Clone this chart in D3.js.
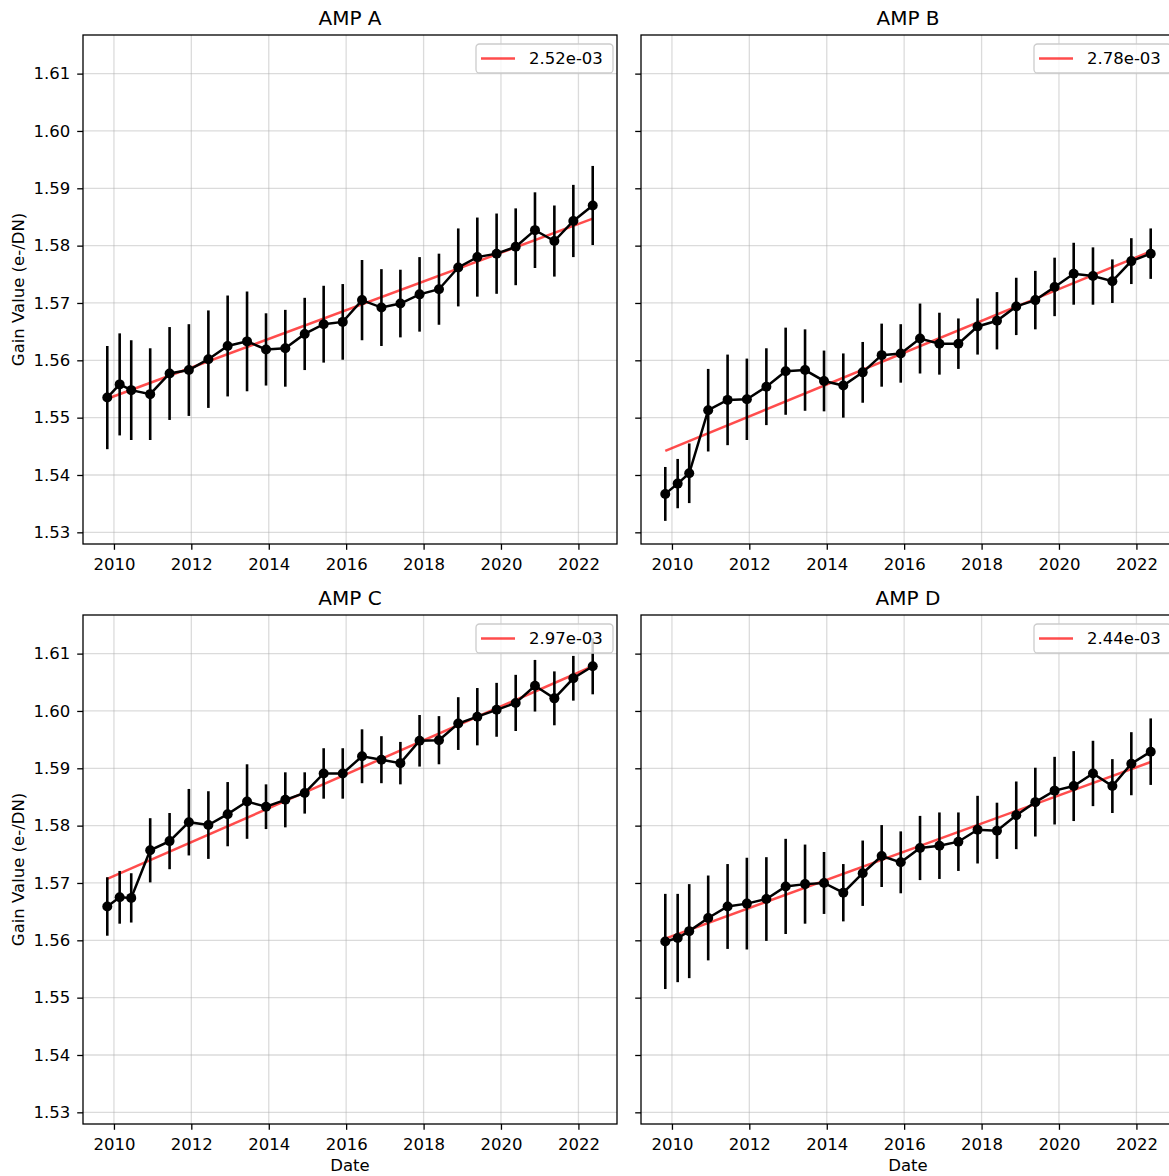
<!DOCTYPE html>
<html><head><meta charset="utf-8">
<script src="https://cdn.jsdelivr.net/npm/d3@7"></script>
<style>
body{margin:0;background:#fff;}
text{font-family:"DejaVu Sans",sans-serif;fill:#000;}
</style></head>
<body>
<svg id="chart" width="1169" height="1176"></svg>
<script>
const dates = ["2009-10-30","2010-02-24","2010-06-13","2010-12-09","2011-06-10","2011-12-09","2012-06-10","2012-12-09","2013-06-10","2013-12-06","2014-06-06","2014-12-06","2015-06-03","2015-11-30","2016-05-30","2016-11-29","2017-05-27","2017-11-24","2018-05-26","2018-11-24","2019-05-23","2019-11-21","2020-05-19","2020-11-17","2021-05-19","2021-11-14","2022-05-16"];
const ampNames = ["AMP A","AMP B","AMP C","AMP D"];
const ampA = [1.5535,1.5558,1.5548,1.5541,1.5577,1.5583,1.5602,1.5625,1.5633,1.5619,1.5621,1.5646,1.5663,1.5667,1.5705,1.5692,1.5699,1.5715,1.5724,1.5762,1.5780,1.5786,1.5798,1.5827,1.5808,1.5843,1.5870];
const ampAErr = [0.0090,0.0089,0.0087,0.0080,0.0081,0.0080,0.0085,0.0088,0.0087,0.0063,0.0067,0.0063,0.0067,0.0066,0.0070,0.0067,0.0059,0.0065,0.0062,0.0068,0.0069,0.0070,0.0067,0.0066,0.0062,0.0063,0.0069];
const ampB = [1.5367,1.5385,1.5403,1.5513,1.5531,1.5532,1.5554,1.5581,1.5583,1.5564,1.5556,1.5579,1.5609,1.5612,1.5638,1.5629,1.5629,1.5659,1.5669,1.5694,1.5705,1.5728,1.5751,1.5747,1.5738,1.5773,1.5786];
const ampBErr = [0.0047,0.0043,0.0052,0.0072,0.0079,0.0071,0.0067,0.0076,0.0071,0.0053,0.0056,0.0053,0.0055,0.0051,0.0061,0.0054,0.0044,0.0049,0.0050,0.0050,0.0051,0.0051,0.0054,0.0050,0.0038,0.0040,0.0044];
const ampC = [1.5659,1.5675,1.5674,1.5757,1.5773,1.5806,1.5801,1.5820,1.5842,1.5833,1.5845,1.5857,1.5891,1.5891,1.5921,1.5915,1.5909,1.5948,1.5949,1.5978,1.5990,1.6002,1.6014,1.6044,1.6022,1.6057,1.6078];
const ampCErr = [0.0051,0.0046,0.0043,0.0056,0.0049,0.0058,0.0059,0.0056,0.0065,0.0039,0.0048,0.0036,0.0044,0.0044,0.0047,0.0041,0.0037,0.0045,0.0042,0.0046,0.0050,0.0047,0.0049,0.0045,0.0047,0.0039,0.0049];
const ampD = [1.5598,1.5604,1.5616,1.5639,1.5659,1.5664,1.5672,1.5694,1.5698,1.5700,1.5683,1.5717,1.5747,1.5736,1.5761,1.5765,1.5772,1.5793,1.5791,1.5818,1.5841,1.5861,1.5869,1.5891,1.5869,1.5908,1.5929];
const ampDErr = [0.0083,0.0077,0.0082,0.0074,0.0074,0.0080,0.0073,0.0083,0.0069,0.0054,0.0050,0.0057,0.0054,0.0054,0.0056,0.0058,0.0051,0.0059,0.0049,0.0059,0.0060,0.0059,0.0061,0.0057,0.0047,0.0055,0.0058];
const fitStart = [1.5533,1.5442,1.5707,1.5603];
const fitEnd = [1.5847,1.5790,1.6078,1.5911];
const slopeLabels = ["2.52e-03","2.78e-03","2.97e-03","2.44e-03"];
const yTicks = [1.53,1.54,1.55,1.56,1.57,1.58,1.59,1.60,1.61];
const xTickYears = [2010,2012,2014,2016,2018,2020,2022];

const series = [ampA, ampB, ampC, ampD];
const errs = [ampAErr, ampBErr, ampCErr, ampDErr];

// layout
const panelPos = [{x:83,y:35},{x:641,y:35},{x:83,y:615},{x:641,y:615}];
const PW = 534, PH = 509;
const FS = 16.5;

const parse = d3.timeParse("%Y-%m-%d");
const dts = dates.map(parse);
const tMin = d3.min(dts), tMax = d3.max(dts);
const tPad = (tMax - tMin) * 0.05;
let lo = Infinity, hi = -Infinity;
series.forEach((s,i)=>s.forEach((v,j)=>{lo=Math.min(lo,v-errs[i][j]);hi=Math.max(hi,v+errs[i][j]);}));
const yPad = (hi-lo)*0.05;

const svg = d3.select("#chart");

series.forEach((vals,i)=>{
  const p = panelPos[i];
  const g = svg.append("g").attr("transform",`translate(${p.x},${p.y})`);
  const x = d3.scaleTime().domain([new Date(+tMin - tPad), new Date(+tMax + tPad)]).range([0,PW]);
  const y = d3.scaleLinear().domain([lo-yPad, hi+yPad]).range([PH,0]);
  const xt = xTickYears.map(yr=>new Date(yr,0,1));

  // grid
  g.append("g").selectAll("line.gx").data(xt).join("line")
    .attr("x1",d=>x(d)).attr("x2",d=>x(d)).attr("y1",0).attr("y2",PH)
    .attr("stroke","#b0b0b0").attr("stroke-opacity",0.45).attr("stroke-width",1.3);
  g.append("g").selectAll("line.gy").data(yTicks).join("line")
    .attr("x1",0).attr("x2",PW).attr("y1",d=>y(d)).attr("y2",d=>y(d))
    .attr("stroke","#b0b0b0").attr("stroke-opacity",0.45).attr("stroke-width",1.3);

  // fit line
  g.append("line")
    .attr("x1",x(tMin)).attr("x2",x(tMax))
    .attr("y1",y(fitStart[i])).attr("y2",y(fitEnd[i]))
    .attr("stroke","red").attr("stroke-opacity",0.7).attr("stroke-width",2.5);

  // error bars
  g.append("g").selectAll("line").data(vals).join("line")
    .attr("x1",(d,j)=>x(dts[j])).attr("x2",(d,j)=>x(dts[j]))
    .attr("y1",(d,j)=>y(d-errs[i][j])).attr("y2",(d,j)=>y(d+errs[i][j]))
    .attr("stroke","#000").attr("stroke-width",2.6);

  // connecting line
  const line = d3.line().x((d,j)=>x(dts[j])).y(d=>y(d));
  g.append("path").datum(vals).attr("d",line)
    .attr("fill","none").attr("stroke","#000").attr("stroke-width",2.5);

  // markers
  g.append("g").selectAll("circle").data(vals).join("circle")
    .attr("cx",(d,j)=>x(dts[j])).attr("cy",d=>y(d)).attr("r",5).attr("fill","#000");

  // axes
  const xAxis = d3.axisBottom(x).tickValues(xt).tickFormat(d3.timeFormat("%Y")).tickSize(5.8).tickPadding(8.5);
  const gx = g.append("g").attr("transform",`translate(0,${PH})`).call(xAxis);
  const yAxis = d3.axisLeft(y).tickValues(yTicks).tickFormat(d3.format(".2f")).tickSize(5.8).tickPadding(7);
  const gy = g.append("g").call(yAxis);
  if (i % 2 === 1) gy.selectAll("text").remove();
  [gx,gy].forEach(a=>{
    a.select(".domain").remove();
    a.selectAll("line").attr("stroke","#000").attr("stroke-width",1.3);
    a.selectAll("text").style("font-family","DejaVu Sans").style("font-size",FS+"px").attr("fill","#000");
  });

  // frame
  g.append("rect").attr("x",0).attr("y",0).attr("width",PW).attr("height",PH)
    .attr("fill","none").attr("stroke","#000").attr("stroke-width",1.3);

  // title
  g.append("text").attr("x",PW/2).attr("y",-10).attr("text-anchor","middle")
    .style("font-size","20px").text(ampNames[i]);

  // legend
  const lw = 137, lh = 29;
  const lx = PW - 4 - lw, ly = 9;
  const lg = g.append("g").attr("transform",`translate(${lx},${ly})`);
  lg.append("rect").attr("width",lw).attr("height",lh).attr("rx",3.5)
    .attr("fill","#fff").attr("fill-opacity",0.8).attr("stroke","#cccccc").attr("stroke-width",1.3);
  lg.append("line").attr("x1",5).attr("x2",39).attr("y1",lh/2).attr("y2",lh/2)
    .attr("stroke","red").attr("stroke-opacity",0.7).attr("stroke-width",2.5);
  lg.append("text").attr("x",53).attr("y",lh/2).attr("dy","0.36em")
    .style("font-size",FS+"px").text(slopeLabels[i]);

  // axis labels
  if (i >= 2) {
    g.append("text").attr("x",PW/2).attr("y",PH+47).attr("text-anchor","middle")
      .style("font-size",FS+"px").text("Date");
  }
  if (i % 2 === 0) {
    g.append("text").attr("transform",`translate(${24-p.x},${PH/2}) rotate(-90)`)
      .attr("text-anchor","middle").style("font-size",FS+"px").text("Gain Value (e-/DN)");
  }
});
</script>
</body></html>
